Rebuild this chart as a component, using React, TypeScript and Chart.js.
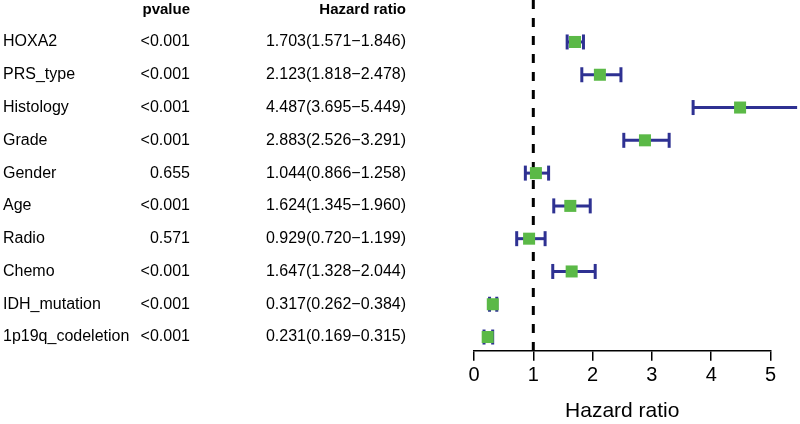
import React, { useEffect, useRef } from "react";
import { Chart, registerables } from "chart.js";

Chart.register(...registerables);

const variables = ["HOXA2", "PRS_type", "Histology", "Grade", "Gender", "Age", "Radio", "Chemo", "IDH_mutation", "1p19q_codeletion"];
const pvalues = ["<0.001", "<0.001", "<0.001", "<0.001", "0.655", "<0.001", "0.571", "<0.001", "<0.001", "<0.001"];
const hr = [1.703, 2.123, 4.487, 2.883, 1.044, 1.624, 0.929, 1.647, 0.317, 0.231];
const lower = [1.571, 1.818, 3.695, 2.526, 0.866, 1.345, 0.72, 1.328, 0.262, 0.169];
const upper = [1.846, 2.478, 5.449, 3.291, 1.258, 1.96, 1.199, 2.044, 0.384, 0.315];
const xTicks = [0, 1, 2, 3, 4, 5];

const NAVY = "#2E3192";
const GREEN = "#5BB947";
const FONT = "'Liberation Sans', Arial, Helvetica, sans-serif";

const fmt = (v: number) => v.toFixed(3);

export default function App() {
  const ref = useRef<HTMLCanvasElement | null>(null);
  useEffect(() => {
    if (!ref.current) return;
    const yMin = -1.28;
    const yMax = 9.42;

    const tablePlugin = {
      id: "table",
      afterDraw(chart: any) {
        const ctx = chart.ctx;
        const ys = chart.scales.y;
        ctx.save();
        ctx.fillStyle = "#000";
        ctx.textBaseline = "middle";
        ctx.font = `bold 15px ${FONT}`;
        ctx.textAlign = "right";
        ctx.fillText("pvalue", 190, 10);
        ctx.fillText("Hazard ratio", 406, 10);
        ctx.font = `16px ${FONT}`;
        variables.forEach((v, i) => {
          const y = ys.getPixelForValue(i);
          ctx.textAlign = "left";
          ctx.fillText(v, 3, y);
          ctx.textAlign = "right";
          ctx.fillText(pvalues[i], 190, y);
          ctx.fillText(`${fmt(hr[i])}(${fmt(lower[i])}\u2212${fmt(upper[i])})`, 406, y);
        });
        ctx.restore();
      },
    };

    const ciLines = variables.map((_, i) => ({
      type: "scatter" as const,
      data: [
        { x: lower[i], y: i },
        { x: upper[i], y: i },
      ],
      showLine: true,
      borderColor: NAVY,
      borderWidth: 3,
      pointRadius: 0,
      clip: false as any,
      order: 3,
    }));

    const chart = new Chart(ref.current, {
      type: "scatter",
      data: {
        datasets: [
          {
            data: hr.map((v, i) => ({ x: v, y: i })),
            pointStyle: "rect",
            pointRadius: 8.5,
            backgroundColor: GREEN,
            borderWidth: 0,
            clip: false as any,
            order: 0,
          },
          {
            data: [...lower.map((v, i) => ({ x: v, y: i })), ...upper.map((v, i) => ({ x: v, y: i }))],
            pointStyle: "line",
            rotation: 90,
            pointRadius: 7.5,
            borderColor: NAVY,
            borderWidth: 3,
            clip: false as any,
            order: 1,
          },
          ...ciLines,
          {
            data: [
              { x: 1, y: yMin },
              { x: 1, y: yMax },
            ],
            showLine: true,
            borderColor: "#000",
            borderWidth: 3,
            borderDash: [9, 9],
            pointRadius: 0,
            clip: false as any,
            order: 5,
          },
        ] as any,
      },
      options: {
        animation: false,
        responsive: false,
        layout: { autoPadding: false, padding: { left: 474, right: 29.5, top: 0, bottom: 0 } },
        plugins: { legend: { display: false }, tooltip: { enabled: false } },
        scales: {
          x: {
            type: "linear",
            min: 0,
            max: 5,
            afterBuildTicks: (axis: any) => {
              axis.ticks = xTicks.map((v) => ({ value: v }));
            },
            ticks: { color: "#000", font: { size: 20, family: FONT }, padding: 3 },
            grid: { drawOnChartArea: false, drawTicks: true, tickLength: 10, color: "#000", lineWidth: 1.5 },
            border: { display: true, color: "#000", width: 1.5 },
            title: {
              display: true,
              text: "Hazard ratio",
              color: "#000",
              font: { size: 21, family: FONT },
              padding: { top: 8, bottom: 0 },
            },
          },
          y: {
            type: "linear",
            min: yMin,
            max: yMax,
            reverse: true,
            display: false,
          },
        },
      },
      plugins: [tablePlugin],
    });
    return () => chart.destroy();
  }, []);

  return (
    <div style={{ position: "absolute", left: 0, top: 0, width: 800, height: 424, background: "#fff" }}>
      <canvas ref={ref} width={800} height={424} />
    </div>
  );
}
